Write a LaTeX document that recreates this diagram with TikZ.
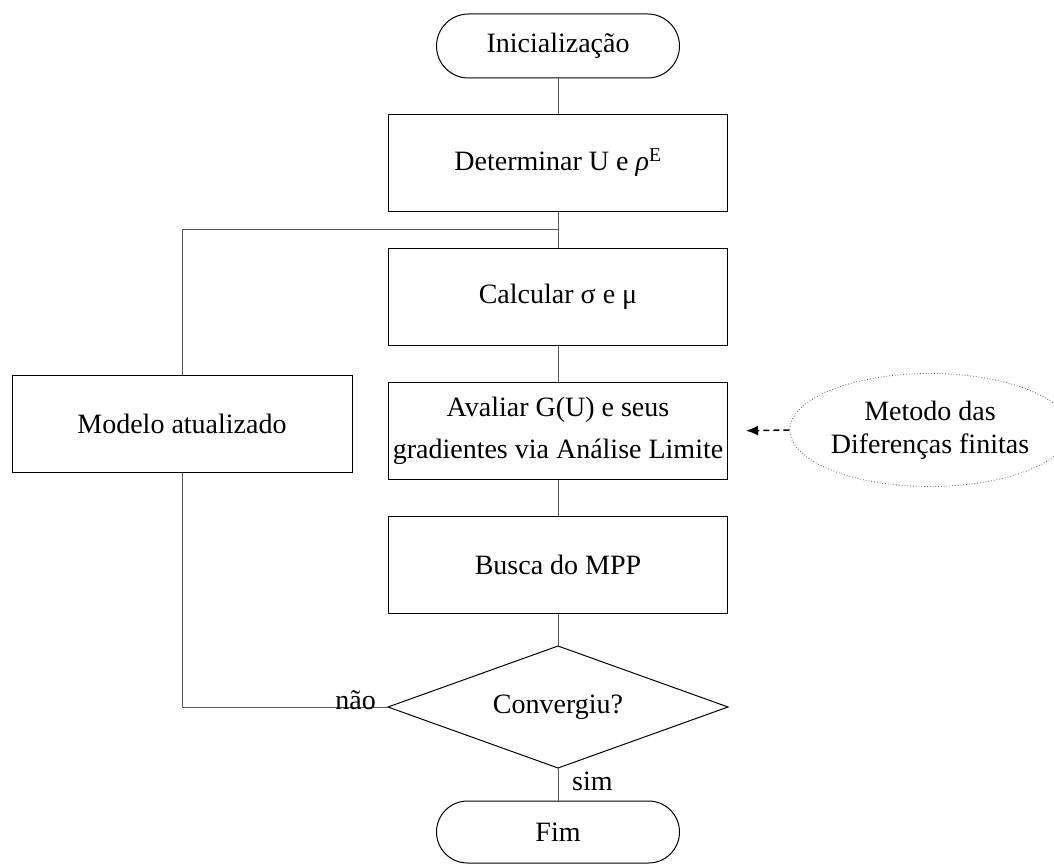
\documentclass[tikz,border=0pt]{standalone}
\usepackage{fontspec}
\setmainfont{Liberation Serif}
\usetikzlibrary{shapes.geometric,shapes.misc,arrows.meta}
\begin{document}
\begin{tikzpicture}[x=1pt,y=-1pt,
  every node/.style={font=\fontsize{28}{33}\selectfont, inner sep=0pt},
  proc/.style={draw=black, line width=1pt, minimum width=339pt, minimum height=97pt, align=center},
  term/.style={draw=black, line width=1pt, rounded rectangle, minimum width=243pt, minimum height=64pt},
  side/.style={draw=black!60, dotted, line width=0.8pt, ellipse, minimum width=254pt, minimum height=113pt, align=center},
  link/.style={draw=black!65, line width=1pt},
  edgebox/.style={draw=black, line width=1pt},
  lbl/.style={font=\fontsize{28}{33}\selectfont}]
\useasboundingbox (0,0) rectangle (1054,864);

% main column
\node[term] (ini) at (558,46) {Inicialização};
\node[proc] (det) at (558,163) {Determinar U e \textit{ρ}\textsuperscript{E}};
\node[proc] (calc) at (558,297) {Calcular σ e μ};
\node[proc, font=\fontsize{28}{42}\selectfont] (aval) at (558,431) {Avaliar G(U) e seus\\gradientes via Análise Limite};
\node[proc] (busca) at (558,565) {Busca do MPP};

% decision diamond
\node (conv) at (558,707) {Convergiu?};
\coordinate (conv-n) at (558,646);
\coordinate (conv-s) at (558,768);
\coordinate (conv-w) at (388,707);
\coordinate (conv-e) at (728,707);
\draw[edgebox] (conv-n) -- (conv-e) -- (conv-s) -- (conv-w) -- cycle;

\node[term, minimum height=62pt] (fim) at (558,832) {Fim};

% feedback branch
\node[proc, minimum width=340pt] (model) at (182,424) {Modelo atualizado};
\coordinate (join) at (558,229);
\coordinate (corner) at (182,707);

% finite differences source
\node[side] (fd) at (930,430) {Metodo das\\Diferenças finitas};

% connectors
\draw[link] (ini) -- (det);
\draw[link] (det) -- (calc);
\draw[link] (calc) -- (aval);
\draw[link] (aval) -- (busca);
\draw[link] (busca) -- (conv-n);
\draw[link] (conv-s) -- (fim);
\draw[link] (conv-w) -- (corner) -- (model.south);
\draw[link] (model.north) |- (join);
\draw[black, dash pattern=on 6pt off 4pt, line width=1.5pt, -{Latex[length=12pt,width=10pt]}, shorten >=18pt] (fd.west) -- (aval.east);

% branch labels
\node[lbl, anchor=south east] (nao) at ([xshift=-12pt,yshift=-3pt]conv-w) {não};
\node[lbl, anchor=west] (sim) at (572,781) {sim};
\end{tikzpicture}
\end{document}
